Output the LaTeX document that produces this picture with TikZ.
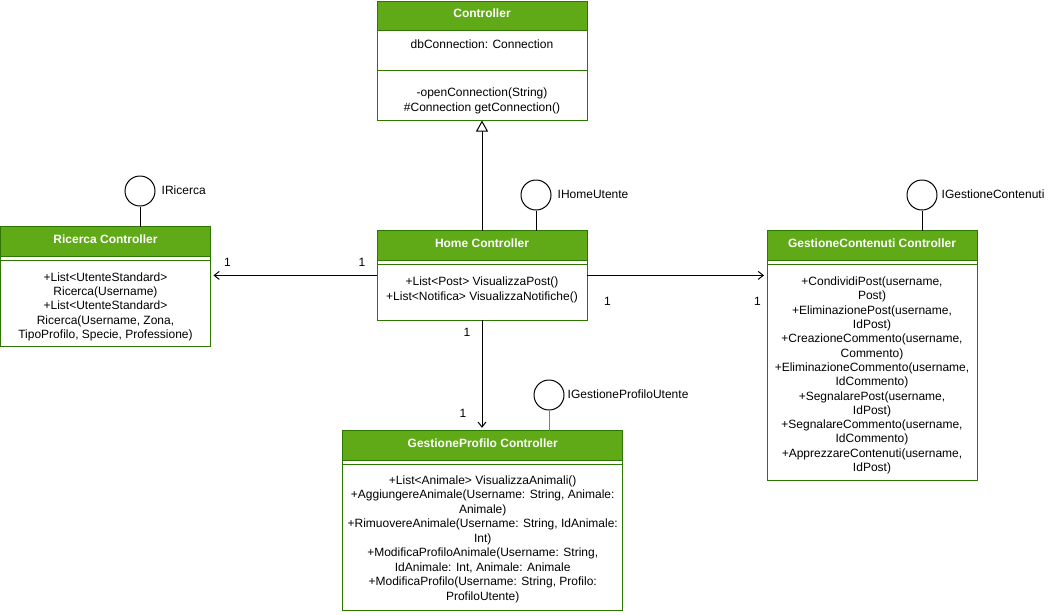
\documentclass[tikz,border=0pt]{standalone}
\usepackage{fontspec}
\setmainfont{Liberation Sans}
\usetikzlibrary{arrows.meta}
\definecolor{gfill}{HTML}{60A917}
\definecolor{gline}{HTML}{2D7600}
\begin{document}
\begin{tikzpicture}[x=1pt,y=-1pt,
  box/.style={draw=gline, line width=1pt, fill=white, inner sep=0pt, outer sep=0pt},
  hdr/.style={draw=gline, fill=gfill, line width=1pt},
  sepline/.style={draw=gline, line width=1pt},
  ttl/.style={font=\bfseries\fontsize{12}{14.4}\selectfont, text=white, inner sep=0pt},
  body/.style={font=\fontsize{12}{14.4}\selectfont, align=center, inner sep=0pt},
  lbl/.style={font=\fontsize{12}{14.4}\selectfont, inner sep=0pt},
  lolli/.style={draw=black, line width=1pt, circle, minimum size=30pt, inner sep=0pt, fill=white},
  stem/.style={draw=black, line width=1pt},
  assoc/.style={draw=black, line width=1pt, -{Straight Barb[length=5pt,width=8pt]}, shorten >=3pt},
  inherit/.style={draw=black, line width=1pt, -{Triangle[open, length=11pt, width=12pt, fill=white]}}
]
\useasboundingbox (0,0) rectangle (1058,614);
\fill[white] (0,0) rectangle (1058,614);

% ---------- Controller ----------
\node[box, minimum width=210pt, minimum height=119.5pt] (ctrl) at (482,60.75) {};
\draw[hdr] (ctrl.north west) rectangle (ctrl.east |- 0,30.5);
\draw[sepline] (ctrl.west |- 0,70.3) -- (ctrl.east |- 0,70.3);
\node[ttl] (ctrlt) at (482,13) {Controller};
\node[body] (ctrla) at (482,44.5) {dbConnection: Connection};
\node[body] (ctrlm) at (482,101) {-openConnection(String)\\\#Connection getConnection()};

% ---------- Ricerca ----------
\node[box, minimum width=210pt, minimum height=119.3pt] (ric) at (105.5,286.4) {};
\draw[hdr] (ric.north west) rectangle (ric.east |- 0,256);
\draw[sepline] (ric.west |- 0,260.3) -- (ric.east |- 0,260.3);
\node[ttl] (rict) at (105.5,239) {Ricerca Controller};
\node[body] (ricm) at (105.5,306.7) {+List<UtenteStandard>\\Ricerca(Username)\\+List<UtenteStandard>\\Ricerca(Username, Zona,\\TipoProfilo, Specie, Professione)};

% ---------- Home ----------
\node[box, minimum width=210pt, minimum height=89.3pt] (home) at (482,275.4) {};
\draw[hdr] (home.north west) rectangle (home.east |- 0,260);
\draw[sepline] (home.west |- 0,264.7) -- (home.east |- 0,264.7);
\node[ttl] (homet) at (482,243) {Home Controller};
\node[body] (homem) at (482,290) {+List<Post> VisualizzaPost()\\+List<Notifica> VisualizzaNotifiche()};

% ---------- GestioneContenuti ----------
\node[box, minimum width=210pt, minimum height=249.3pt] (gc) at (872,355.4) {};
\draw[hdr] (gc.north west) rectangle (gc.east |- 0,260);
\draw[sepline] (gc.west |- 0,264.7) -- (gc.east |- 0,264.7);
\node[ttl] (gct) at (872,243) {GestioneContenuti Controller};
\node[body, font=\fontsize{12}{14.3}\selectfont] (gcm) at (872,375.5) {+CondividiPost(username,\\Post)\\+EliminazionePost(username,\\IdPost)\\+CreazioneCommento(username,\\Commento)\\+EliminazioneCommento(username,\\IdCommento)\\+SegnalarePost(username,\\IdPost)\\+SegnalareCommento(username,\\IdCommento)\\+ApprezzareContenuti(username,\\IdPost)};

% ---------- GestioneProfilo ----------
\node[box, minimum width=280pt, minimum height=179.3pt] (gp) at (482.7,520.4) {};
\draw[hdr] (gp.north west) rectangle (gp.east |- 0,460);
\draw[sepline] (gp.west |- 0,464.7) -- (gp.east |- 0,464.7);
\node[ttl] (gpt) at (482.7,443) {GestioneProfilo Controller};
\node[body, font=\fontsize{12}{14.5}\selectfont] (gpm) at (482.7,539.3) {+List<Animale> VisualizzaAnimali()\\+AggiungereAnimale(Username: String, Animale:\\Animale)\\+RimuovereAnimale(Username: String, IdAnimale:\\Int)\\+ModificaProfiloAnimale(Username: String,\\IdAnimale: Int, Animale: Animale\\+ModificaProfilo(Username: String, Profilo:\\ProfiloUtente)};

% ---------- Lollipops ----------
\node[lolli] (iric) at (140,191) {};
\draw[stem] (iric.south) -- (iric.south |- ric.north);
\node[lbl, anchor=west] (iricl) at (161.5,190) {IRicerca};

\node[lolli] (ihome) at (536,195) {};
\draw[stem] (ihome.south) -- (ihome.south |- home.north);
\node[lbl, anchor=west] (ihomel) at (557.5,194) {IHomeUtente};

\node[lolli] (igc) at (922,195) {};
\draw[stem] (igc.south) -- (igc.south |- gc.north);
\node[lbl, anchor=west] (igcl) at (941.5,194) {IGestioneContenuti};

\node[lolli] (igp) at (549,395) {};
\draw[stem, draw=gray] (igp.south) -- (igp.south |- gp.north);
\node[lbl, anchor=west] (igpl) at (567.5,394) {IGestioneProfiloUtente};

% ---------- Connectors ----------
\draw[inherit] (home.north) -- (ctrl.south);
\draw[assoc] (home.west) -- (home.west -| ric.east);
\draw[assoc] (home.east) -- (home.east -| gc.west);
\draw[assoc] (home.south) -- (home.south |- gp.north);

% ---------- Multiplicities ----------
\node[lbl] (m1) at (227.5,262) {1};
\node[lbl] (m2) at (362,262) {1};
\node[lbl] (m3) at (607.5,301.5) {1};
\node[lbl] (m4) at (757.5,301.5) {1};
\node[lbl] (m5) at (467,332) {1};
\node[lbl] (m6) at (463,413) {1};
\end{tikzpicture}
\end{document}
